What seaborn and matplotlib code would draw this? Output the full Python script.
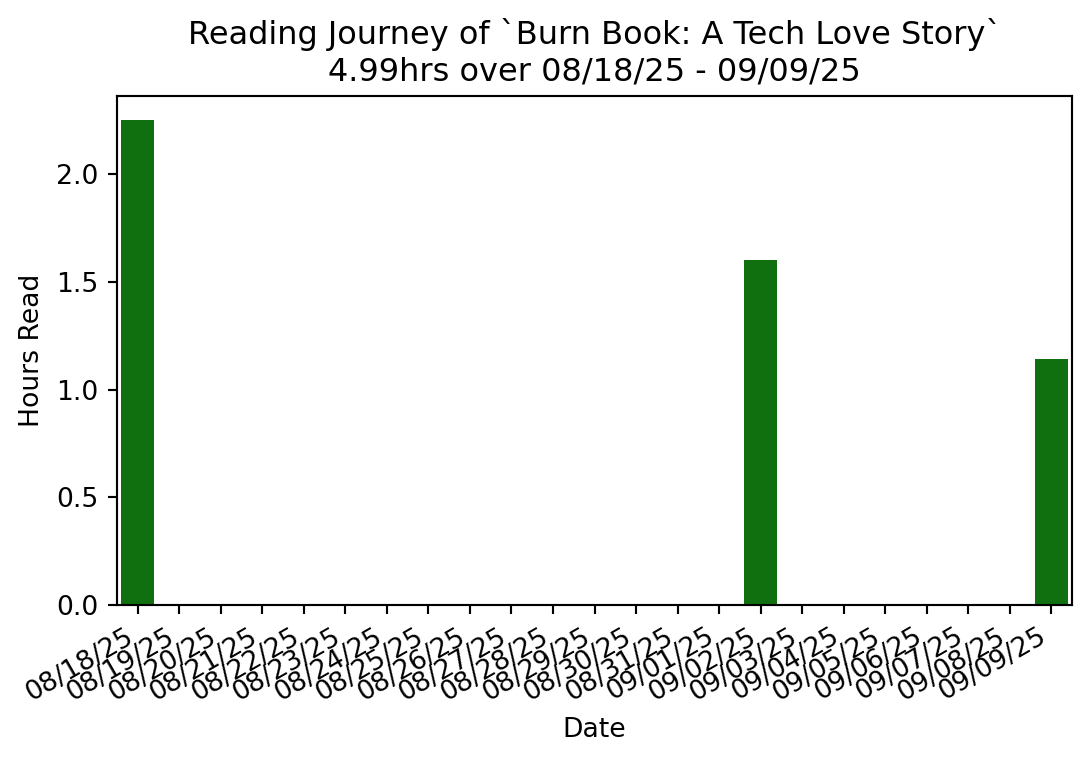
import matplotlib
matplotlib.use("Agg")
import matplotlib.pyplot as plt
import seaborn as sns
import pandas as pd

# Daily reading log
dates = ["08/18/25", "08/19/25", "08/20/25", "08/21/25", "08/22/25", "08/23/25",
         "08/24/25", "08/25/25", "08/26/25", "08/27/25", "08/28/25", "08/29/25",
         "08/30/25", "08/31/25", "09/01/25", "09/02/25", "09/03/25", "09/04/25",
         "09/05/25", "09/06/25", "09/07/25", "09/08/25", "09/09/25"]
hours = [2.25, 0, 0, 0, 0, 0, 0, 0, 0, 0, 0, 0, 0, 0, 0, 1.60, 0, 0, 0, 0, 0, 0, 1.14]

book_title = "Burn Book: A Tech Love Story"

df = pd.DataFrame({"Date": dates, "Hours Read": hours})

DPI = 192
fig = plt.figure(figsize=(1091 / DPI, 762 / DPI), dpi=DPI)
ax = fig.add_axes([117 / 1091, 1 - 605 / 762, (1072 - 117) / 1091, (605 - 96) / 762])

sns.barplot(data=df, x="Date", y="Hours Read", color="green", ax=ax)

ax.set_title(f"Reading Journey of `{book_title}`\n"
             f"{sum(hours):.2f}hrs over {dates[0]} - {dates[-1]}")
plt.setp(ax.get_xticklabels(), rotation=30, ha="right")

fig.savefig("out.png", dpi=DPI)
